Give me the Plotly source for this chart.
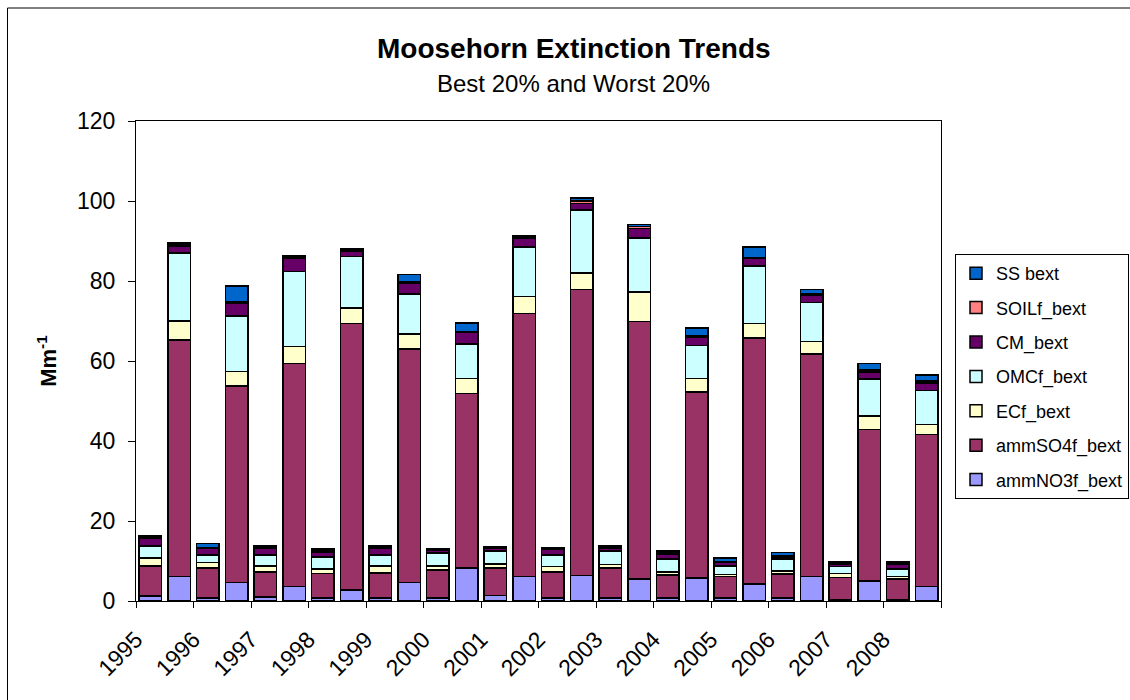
import plotly.graph_objects as go

# Year labels; each year has a "best 20%" bar followed by a "worst 20%" bar
years = ["1995", "1996", "1997", "1998", "1999", "2000", "2001",
         "2002", "2003", "2004", "2005", "2006", "2007", "2008"]

# Extinction components (Mm-1), alternating best / worst per year
ammNO3f_bext = [1.2, 6.1, 0.8, 4.6, 1.0, 3.6, 0.8, 2.7, 0.8, 4.6, 0.8, 8.3, 1.4, 6.1,
                0.8, 6.4, 0.8, 5.5, 0.8, 5.7, 0.8, 4.2, 0.8, 6.1, 0.4, 5.0, 0.4, 3.6]
ammSO4f_bext = [7.6, 59.2, 7.5, 49.1, 6.2, 55.8, 6.1, 66.7, 6.2, 58.4, 7.0, 43.6, 6.9, 65.8,
                6.5, 71.5, 7.4, 64.4, 5.7, 46.6, 5.3, 61.6, 5.9, 55.7, 5.5, 37.9, 5.1, 38.0]
ECf_bext = [2.0, 4.7, 1.3, 3.7, 1.6, 4.2, 1.1, 3.8, 1.8, 3.8, 0.9, 3.7, 0.9, 4.2,
            1.3, 4.1, 0.9, 7.4, 0.7, 3.3, 0.5, 3.6, 0.8, 3.1, 1.0, 3.4, 0.6, 2.5]
OMCf_bext = [3.0, 17.0, 1.9, 13.9, 2.7, 18.8, 3.0, 12.9, 2.7, 9.9, 3.3, 8.7, 3.3, 12.4,
             2.9, 15.8, 3.4, 13.5, 3.3, 8.3, 2.2, 14.4, 3.0, 9.7, 1.7, 9.2, 1.9, 8.5]
CM_bext = [2.0, 1.8, 1.7, 3.2, 1.8, 3.2, 1.3, 1.3, 1.8, 2.8, 0.7, 2.8, 0.7, 2.2,
           1.5, 1.6, 0.7, 2.3, 1.1, 2.1, 0.8, 1.9, 0.4, 1.8, 0.5, 1.8, 1.1, 1.9]
SOILf_bext = [0.25, 0.4, 0.2, 0.3, 0.3, 0.3, 0.35, 0.35, 0.3, 0.3, 0.15, 0.3, 0.15, 0.35,
              0.1, 0.65, 0.35, 0.5, 0.45, 0.4, 0.2, 0.2, 0.3, 0.3, 0.3, 0.4, 0.3, 0.5]
SS_bext = [0.25, 0.3, 1.0, 4.0, 0.3, 0.3, 0.35, 0.35, 0.3, 1.8, 0.15, 2.1, 0.15, 0.35,
           0.1, 0.65, 0.35, 0.5, 0.45, 1.8, 0.9, 2.6, 0.9, 1.2, 0.3, 1.7, 0.3, 1.5]

# stacking order bottom -> top
series = [
    ("ammNO3f_bext", ammNO3f_bext, "#9999FF"),
    ("ammSO4f_bext", ammSO4f_bext, "#993366"),
    ("ECf_bext", ECf_bext, "#FFFFCC"),
    ("OMCf_bext", OMCf_bext, "#CCFFFF"),
    ("CM_bext", CM_bext, "#660066"),
    ("SOILf_bext", SOILf_bext, "#FF8080"),
    ("SS bext", SS_bext, "#0066CC"),
]

positions = list(range(len(ammNO3f_bext)))
FONT = "Liberation Sans, Arial, sans-serif"

fig = go.Figure()
n = len(series)
for k, (name, vals, color) in enumerate(series):
    fig.add_trace(go.Bar(
        x=positions, y=vals, name=name, legendgroup=name, legendrank=n - k,
        marker=dict(color=color, line=dict(color="black", width=1.5)),
    ))

# year labels sit on the boundaries between year pairs
label_pos = [2 * i - 0.5 for i in range(len(years))]
boundary_pos = [2 * i - 0.5 for i in range(len(years) + 1)]

fig.update_layout(
    width=1130, height=700,
    barmode="stack", bargap=0.21,
    paper_bgcolor="white", plot_bgcolor="white",
    margin=dict(l=136, r=189, t=121, b=99, autoexpand=False),
    font=dict(family=FONT, color="black", size=23),
    showlegend=True,
    legend=dict(
        x=(955 - 136) / 805, y=(601 - 254) / 480, xanchor="left", yanchor="top",
        traceorder="grouped", tracegroupgap=8,
        bordercolor="black", borderwidth=1, bgcolor="white",
        font=dict(size=18, family=FONT), itemwidth=30,
    ),
    xaxis=dict(
        range=[-0.5, 27.5], tickmode="array", tickvals=label_pos, ticktext=years,
        tickangle=-45, ticks="outside", ticklen=6, tickcolor="black",
        minor=dict(tickmode="array", tickvals=boundary_pos, ticks="outside",
                   ticklen=6, tickcolor="black", showgrid=False),
        showline=True, linecolor="black", linewidth=1, mirror=True,
        showgrid=False, zeroline=False, ticklabelstandoff=9,
        tickfont=dict(size=23),
    ),
    yaxis=dict(
        range=[0, 120], dtick=20, ticks="outside", ticklen=7, tickcolor="black",
        showline=True, linecolor="black", linewidth=1, mirror=True,
        showgrid=False, zeroline=False, tickfont=dict(size=23), ticklabelstandoff=8,
        title=dict(text="<b>Mm<sup>-1</sup></b>", font=dict(size=22), standoff=14),
    ),
    annotations=[
        dict(text="<b>Moosehorn Extinction Trends</b>", xref="paper", yref="paper",
             x=0.544, y=(601 - 48) / 480, xanchor="center", yanchor="middle",
             showarrow=False, font=dict(size=28)),
        dict(text="Best 20% and Worst 20%", xref="paper", yref="paper",
             x=0.544, y=(601 - 84) / 480, xanchor="center", yanchor="middle",
             showarrow=False, font=dict(size=24)),
    ],
    shapes=[
        dict(type="rect", xref="paper", yref="paper",
             x0=(7.5 - 136) / 805, x1=(1140 - 136) / 805,
             y0=(601 - 710) / 480, y1=(601 - 8) / 480,
             line=dict(color="black", width=1), fillcolor="rgba(0,0,0,0)", layer="below"),
    ],
)

fig.write_html("out.html")
